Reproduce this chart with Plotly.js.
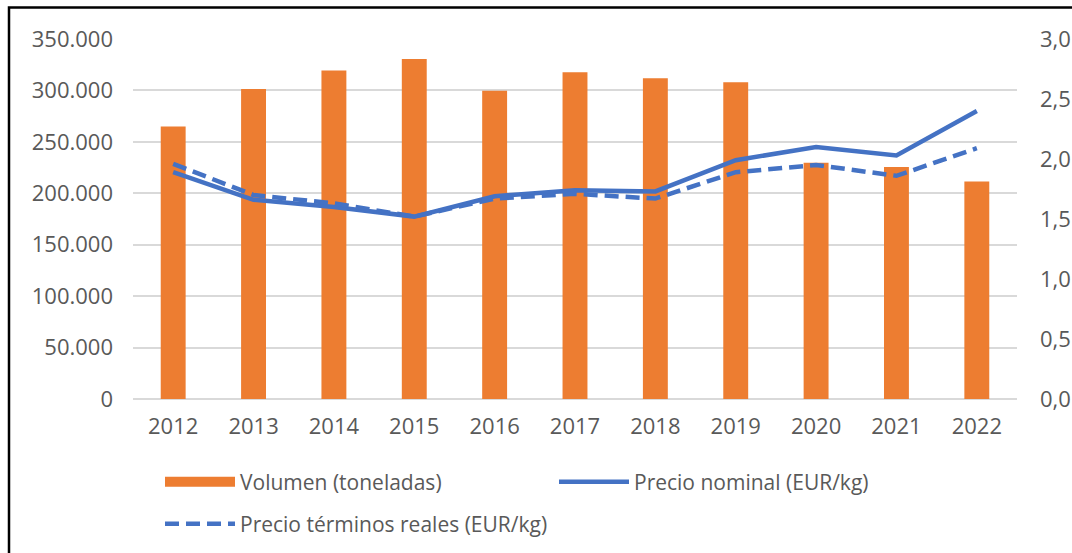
<!DOCTYPE html>
<html>
<head>
<meta charset="utf-8">
<script src="https://cdn.plot.ly/plotly-3.0.1.min.js"></script>
<style>html,body{margin:0;padding:0;background:#fff;}#chart{width:1072px;height:553px;}</style>
</head>
<body>
<div id="chart"></div>
<script>
const years = ['2012','2013','2014','2015','2016','2017','2018','2019','2020','2021','2022'];
const volumen = [265000, 301500, 319300, 330600, 299600, 317700, 311900, 308000, 229800, 225600, 211400];
const precioNominal = [1.89, 1.66, 1.60, 1.52, 1.69, 1.74, 1.73, 1.99, 2.10, 2.03, 2.40];
const precioReal = [1.96, 1.70, 1.63, 1.52, 1.67, 1.71, 1.67, 1.89, 1.95, 1.86, 2.09];
const leftTicks = [0, 50000, 100000, 150000, 200000, 250000, 300000, 350000];
const rightTicks = [0, 0.5, 1.0, 1.5, 2.0, 2.5, 3.0];

const fontFam = '"Open Sans", "DejaVu Sans", sans-serif';
const grey = '#595959';
const orange = '#ED7D31';
const blue = '#4472C4';

const traces = [
  {type:'bar', x:years, y:volumen, name:'Volumen (toneladas)', marker:{color:orange}, yaxis:'y', showlegend:false},
  {type:'scatter', mode:'lines', x:[null], y:[null], name:'Volumen (toneladas)', line:{color:orange, width:13}, yaxis:'y', legend:'legend', hoverinfo:'skip'},
  {type:'scatter', mode:'lines', x:years, y:precioNominal, name:'Precio nominal (EUR/kg)', line:{color:blue, width:4.5}, yaxis:'y2', legend:'legend'},
  {type:'scatter', mode:'lines', x:years, y:precioReal, name:'Precio términos reales (EUR/kg)', line:{color:blue, width:4.5, dash:'14px,7px'}, yaxis:'y2', legend:'legend2'}
];

const legendCommon = {orientation:'h', xref:'container', yref:'container', xanchor:'left', yanchor:'middle', itemwidth:70, font:{size:21, color:grey}, bgcolor:'rgba(0,0,0,0)', borderwidth:0};

const layout = {
  width:1072, height:553,
  margin:{l:133, r:55, t:39, b:154, autoexpand:false},
  paper_bgcolor:'#fff', plot_bgcolor:'#fff',
  separators:',.',
  font:{family:fontFam, size:21, color:grey},
  bargap:0.69,
  showlegend:true,
  xaxis:{type:'category', showgrid:false, zeroline:false, showline:false, ticks:'', tickfont:{size:22, color:grey}, ticklabelstandoff:12},
  yaxis:{range:[0,350000], tickvals:leftTicks, tickformat:',d', showgrid:true, gridcolor:'#d9d9d9', gridwidth:2, zeroline:true, zerolinecolor:'#d9d9d9', zerolinewidth:2, showline:false, ticks:'', tickfont:{size:22, color:grey}, ticklabelstandoff:19},
  yaxis2:{range:[0,3], tickvals:rightTicks, tickformat:'.1f', overlaying:'y', side:'right', showgrid:false, zeroline:false, showline:false, ticks:'', tickfont:{size:22, color:grey}, ticklabelstandoff:22},
  legend:Object.assign({}, legendCommon, {x:160/1072, y:1-482/553, entrywidth:309}),
  legend2:Object.assign({}, legendCommon, {x:160/1072, y:1-524/553}),
  shapes:[
    {type:'rect', xref:'paper', yref:'paper', x0:(9-133)/884, x1:(1100-133)/884, y0:(399-600)/360, y1:(399-7.5)/360, line:{color:'#000', width:2.5}, fillcolor:'rgba(0,0,0,0)', layer:'above'}
  ]
};

Plotly.newPlot('chart', traces, layout, {displayModeBar:false, staticPlot:true});
</script>
</body>
</html>
